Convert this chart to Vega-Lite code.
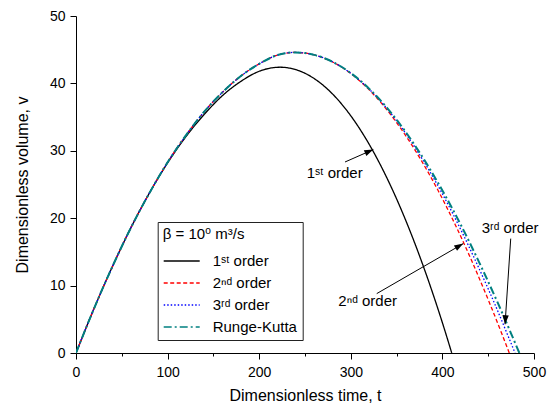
{
  "$schema": "https://vega.github.io/schema/vega-lite/v6.json",
  "width": 458,
  "height": 337,
  "autosize": {"type": "none"},
  "padding": {"left": 76, "top": 16, "right": 18, "bottom": 52},
  "background": "white",
  "config": {"view": {"stroke": null}, "font": "Liberation Sans, DejaVu Sans, sans-serif"},
  "datasets": {
    "curves": [
      {"s": "1ˢᵗ order", "t": 0, "v": 0}, {"s": "1ˢᵗ order", "t": 20, "v": 6.7}, {"s": "1ˢᵗ order", "t": 40, "v": 12.9}, {"s": "1ˢᵗ order", "t": 60, "v": 18.6}, {"s": "1ˢᵗ order", "t": 80, "v": 23.7}, {"s": "1ˢᵗ order", "t": 100, "v": 28.2}, {"s": "1ˢᵗ order", "t": 120, "v": 32.1}, {"s": "1ˢᵗ order", "t": 140, "v": 35.4}, {"s": "1ˢᵗ order", "t": 160, "v": 38.2}, {"s": "1ˢᵗ order", "t": 180, "v": 40.3}, {"s": "1ˢᵗ order", "t": 200, "v": 41.8}, {"s": "1ˢᵗ order", "t": 222.7, "v": 42.4}, {"s": "1ˢᵗ order", "t": 240, "v": 42.04}, {"s": "1ˢᵗ order", "t": 260, "v": 40.72}, {"s": "1ˢᵗ order", "t": 280, "v": 38.44}, {"s": "1ˢᵗ order", "t": 300, "v": 35.19}, {"s": "1ˢᵗ order", "t": 320, "v": 30.98}, {"s": "1ˢᵗ order", "t": 340, "v": 25.81}, {"s": "1ˢᵗ order", "t": 360, "v": 19.67}, {"s": "1ˢᵗ order", "t": 380, "v": 12.56}, {"s": "1ˢᵗ order", "t": 400, "v": 4.49}, {"s": "1ˢᵗ order", "t": 410.2, "v": 0},
      {"s": "2ⁿᵈ order", "t": 0, "v": 0}, {"s": "2ⁿᵈ order", "t": 20, "v": 6.7}, {"s": "2ⁿᵈ order", "t": 40, "v": 12.9}, {"s": "2ⁿᵈ order", "t": 60, "v": 18.6}, {"s": "2ⁿᵈ order", "t": 80, "v": 23.7}, {"s": "2ⁿᵈ order", "t": 100, "v": 28.3}, {"s": "2ⁿᵈ order", "t": 120, "v": 32.3}, {"s": "2ⁿᵈ order", "t": 140, "v": 35.8}, {"s": "2ⁿᵈ order", "t": 160, "v": 38.7}, {"s": "2ⁿᵈ order", "t": 180, "v": 41.1}, {"s": "2ⁿᵈ order", "t": 200, "v": 42.9}, {"s": "2ⁿᵈ order", "t": 220, "v": 44.2}, {"s": "2ⁿᵈ order", "t": 239, "v": 44.6}, {"s": "2ⁿᵈ order", "t": 250, "v": 44.5}, {"s": "2ⁿᵈ order", "t": 259.9, "v": 44.23}, {"s": "2ⁿᵈ order", "t": 279.7, "v": 43.21}, {"s": "2ⁿᵈ order", "t": 299.3, "v": 41.53}, {"s": "2ⁿᵈ order", "t": 318.8, "v": 39.22}, {"s": "2ⁿᵈ order", "t": 338.1, "v": 36.3}, {"s": "2ⁿᵈ order", "t": 357.3, "v": 32.78}, {"s": "2ⁿᵈ order", "t": 376.4, "v": 28.7}, {"s": "2ⁿᵈ order", "t": 395.3, "v": 24.11}, {"s": "2ⁿᵈ order", "t": 414.0, "v": 19.04}, {"s": "2ⁿᵈ order", "t": 432.6, "v": 13.49}, {"s": "2ⁿᵈ order", "t": 451.0, "v": 7.58}, {"s": "2ⁿᵈ order", "t": 464.8, "v": 2.89}, {"s": "2ⁿᵈ order", "t": 473.0, "v": 0},
      {"s": "3ʳᵈ order", "t": 0, "v": 0}, {"s": "3ʳᵈ order", "t": 20, "v": 6.7}, {"s": "3ʳᵈ order", "t": 40, "v": 12.9}, {"s": "3ʳᵈ order", "t": 60, "v": 18.6}, {"s": "3ʳᵈ order", "t": 80, "v": 23.7}, {"s": "3ʳᵈ order", "t": 100, "v": 28.3}, {"s": "3ʳᵈ order", "t": 120, "v": 32.3}, {"s": "3ʳᵈ order", "t": 140, "v": 35.8}, {"s": "3ʳᵈ order", "t": 160, "v": 38.7}, {"s": "3ʳᵈ order", "t": 180, "v": 41.1}, {"s": "3ʳᵈ order", "t": 200, "v": 42.9}, {"s": "3ʳᵈ order", "t": 220, "v": 44.2}, {"s": "3ʳᵈ order", "t": 239, "v": 44.6}, {"s": "3ʳᵈ order", "t": 250, "v": 44.5}, {"s": "3ʳᵈ order", "t": 260, "v": 44.23}, {"s": "3ʳᵈ order", "t": 279.9, "v": 43.21}, {"s": "3ʳᵈ order", "t": 299.7, "v": 41.53}, {"s": "3ʳᵈ order", "t": 319.5, "v": 39.22}, {"s": "3ʳᵈ order", "t": 339.2, "v": 36.3}, {"s": "3ʳᵈ order", "t": 358.9, "v": 32.78}, {"s": "3ʳᵈ order", "t": 378.4, "v": 28.7}, {"s": "3ʳᵈ order", "t": 398.0, "v": 24.11}, {"s": "3ʳᵈ order", "t": 417.4, "v": 19.04}, {"s": "3ʳᵈ order", "t": 436.8, "v": 13.49}, {"s": "3ʳᵈ order", "t": 456.2, "v": 7.58}, {"s": "3ʳᵈ order", "t": 470.6, "v": 2.89}, {"s": "3ʳᵈ order", "t": 479.3, "v": 0},
      {"s": "Runge-Kutta", "t": 0, "v": 0}, {"s": "Runge-Kutta", "t": 20, "v": 6.7}, {"s": "Runge-Kutta", "t": 40, "v": 12.9}, {"s": "Runge-Kutta", "t": 60, "v": 18.6}, {"s": "Runge-Kutta", "t": 80, "v": 23.7}, {"s": "Runge-Kutta", "t": 100, "v": 28.3}, {"s": "Runge-Kutta", "t": 120, "v": 32.3}, {"s": "Runge-Kutta", "t": 140, "v": 35.8}, {"s": "Runge-Kutta", "t": 160, "v": 38.7}, {"s": "Runge-Kutta", "t": 180, "v": 41.1}, {"s": "Runge-Kutta", "t": 200, "v": 42.9}, {"s": "Runge-Kutta", "t": 220, "v": 44.2}, {"s": "Runge-Kutta", "t": 239, "v": 44.6}, {"s": "Runge-Kutta", "t": 250, "v": 44.5}, {"s": "Runge-Kutta", "t": 260, "v": 44.23}, {"s": "Runge-Kutta", "t": 280, "v": 43.21}, {"s": "Runge-Kutta", "t": 300, "v": 41.53}, {"s": "Runge-Kutta", "t": 320, "v": 39.22}, {"s": "Runge-Kutta", "t": 340, "v": 36.3}, {"s": "Runge-Kutta", "t": 360, "v": 32.78}, {"s": "Runge-Kutta", "t": 380, "v": 28.7}, {"s": "Runge-Kutta", "t": 400, "v": 24.11}, {"s": "Runge-Kutta", "t": 420, "v": 19.04}, {"s": "Runge-Kutta", "t": 440, "v": 13.49}, {"s": "Runge-Kutta", "t": 460, "v": 7.58}, {"s": "Runge-Kutta", "t": 475, "v": 2.89}, {"s": "Runge-Kutta", "t": 484, "v": 0}
    ],
    "arrows": [
      {"id": 1, "t1": 293.7, "v1": 28.34, "t2": 324.6, "v2": 30.19},
      {"id": 2, "t1": 328.3, "v1": 8.81, "t2": 422.8, "v2": 16.23},
      {"id": 3, "t1": 474.6, "v1": 16.97, "t2": 468.4, "v2": 4.26}
    ],
    "notes": [
      {"label": "1ˢᵗ order", "t": 251.9, "v": 25.9},
      {"label": "2ⁿᵈ order", "t": 286.4, "v": 6.93},
      {"label": "3ʳᵈ order", "t": 442.9, "v": 17.86}
    ]
  },
  "layer": [
    {
      "data": {"name": "curves"},
      "transform": [{"filter": "datum.s !== 'Runge-Kutta'"}],
      "mark": {"type": "line", "strokeWidth": 1.3, "interpolate": "monotone", "clip": true},
      "encoding": {
        "x": {"field": "t", "type": "quantitative", "scale": {"domain": [0, 500], "nice": false, "zero": false},
          "axis": {"title": "Dimensionless time, t", "values": [0, 50, 100, 150, 200, 250, 300, 350, 400, 450, 500],
            "labelExpr": "datum.value % 100 === 0 ? datum.label : ''",
            "tickSize": {"condition": {"test": "datum.value % 100 === 0", "value": 6}, "value": 3},
            "grid": false, "domainColor": "black", "tickColor": "black", "labelColor": "black", "titleColor": "black",
            "domainWidth": 1, "tickWidth": 1, "labelFontSize": 14, "titleFontSize": 16, "titleFontWeight": "normal",
            "labelPadding": 6, "titlePadding": 8, "labelFlush": false, "labelOverlap": false}},
        "y": {"field": "v", "type": "quantitative", "scale": {"domain": [0, 50], "nice": false},
          "axis": {"title": "Dimensionless volume, v", "values": [0, 5, 10, 15, 20, 25, 30, 35, 40, 45, 50],
            "labelExpr": "datum.value % 10 === 0 ? datum.label : ''",
            "tickSize": {"condition": {"test": "datum.value % 10 === 0", "value": 6}, "value": 3},
            "grid": false, "domainColor": "black", "tickColor": "black", "labelColor": "black", "titleColor": "black",
            "domainWidth": 1, "tickWidth": 1, "labelFontSize": 14, "titleFontSize": 16, "titleFontWeight": "normal",
            "labelPadding": 5, "titlePadding": 19, "labelFlush": false, "labelOverlap": false}},
        "color": {"field": "s", "type": "nominal",
          "scale": {"domain": ["1ˢᵗ order", "2ⁿᵈ order", "3ʳᵈ order", "Runge-Kutta"], "range": ["#000000", "#ff0000", "#0000ff", "#008080"]},
          "legend": {"title": "β = 10⁰ m³/s", "orient": "none", "legendX": 81.7, "legendY": 206, "direction": "vertical",
            "symbolType": "M-2,0L2,0", "symbolSize": 324, "symbolOffset": 9, "symbolStrokeWidth": 1.5, "labelFontSize": 15, "titleFontSize": 15,
            "titleFontWeight": "normal", "labelColor": "black", "titleColor": "black", "strokeColor": "#222", "fillColor": "white",
            "padding": 5, "rowPadding": 4, "labelOffset": 21, "titlePadding": 9, "labelLimit": 200}},
        "strokeDash": {"field": "s", "type": "nominal",
          "scale": {"domain": ["1ˢᵗ order", "2ⁿᵈ order", "3ʳᵈ order", "Runge-Kutta"], "range": [[1, 0], [4, 2.5], [1.5, 2], [8, 3, 2, 3]]},
          "legend": {"title": "β = 10⁰ m³/s", "orient": "none", "legendX": 81.7, "legendY": 206, "direction": "vertical",
            "symbolType": "M-2,0L2,0", "symbolSize": 324, "symbolOffset": 9, "symbolStrokeWidth": 1.5, "labelFontSize": 15, "titleFontSize": 15,
            "titleFontWeight": "normal", "labelColor": "black", "titleColor": "black", "strokeColor": "#222", "fillColor": "white",
            "padding": 5, "rowPadding": 4, "labelOffset": 21, "titlePadding": 9, "labelLimit": 200}}
      }
    },
    {
      "data": {"name": "curves"},
      "transform": [{"filter": "datum.s === 'Runge-Kutta'"}],
      "mark": {"type": "line", "strokeWidth": 2, "interpolate": "monotone", "clip": true},
      "encoding": {
        "x": {"field": "t", "type": "quantitative"},
        "y": {"field": "v", "type": "quantitative"},
        "color": {"field": "s", "type": "nominal"},
        "strokeDash": {"field": "s", "type": "nominal"}
      }
    },
    {
      "data": {"name": "arrows"},
      "mark": {"type": "rule", "color": "black", "strokeWidth": 1},
      "encoding": {
        "x": {"field": "t1", "type": "quantitative"},
        "y": {"field": "v1", "type": "quantitative"},
        "x2": {"field": "t2"},
        "y2": {"field": "v2"}
      }
    },
    {
      "data": {"name": "arrows"},
      "transform": [{"filter": "datum.id === 1"}],
      "mark": {"type": "point", "shape": "M0,0L0.35,1L-0.35,1Z", "filled": true, "color": "black", "opacity": 1, "size": 324, "angle": 66.3},
      "encoding": {"x": {"field": "t2", "type": "quantitative"}, "y": {"field": "v2", "type": "quantitative"}}
    },
    {
      "data": {"name": "arrows"},
      "transform": [{"filter": "datum.id === 2"}],
      "mark": {"type": "point", "shape": "M0,0L0.35,1L-0.35,1Z", "filled": true, "color": "black", "opacity": 1, "size": 324, "angle": 60},
      "encoding": {"x": {"field": "t2", "type": "quantitative"}, "y": {"field": "v2", "type": "quantitative"}}
    },
    {
      "data": {"name": "arrows"},
      "transform": [{"filter": "datum.id === 3"}],
      "mark": {"type": "point", "shape": "M0,0L0.35,1L-0.35,1Z", "filled": true, "color": "black", "opacity": 1, "size": 324, "angle": 183.8},
      "encoding": {"x": {"field": "t2", "type": "quantitative"}, "y": {"field": "v2", "type": "quantitative"}}
    },
    {
      "data": {"name": "notes"},
      "mark": {"type": "text", "align": "left", "baseline": "alphabetic", "fontSize": 15, "color": "black"},
      "encoding": {
        "x": {"field": "t", "type": "quantitative"},
        "y": {"field": "v", "type": "quantitative"},
        "text": {"field": "label"}
      }
    }
  ]
}
